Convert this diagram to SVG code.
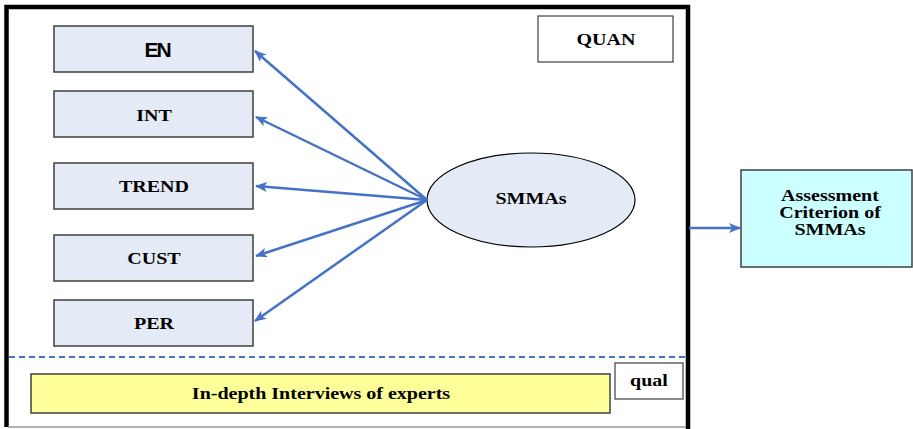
<svg xmlns="http://www.w3.org/2000/svg" width="913" height="429" viewBox="0 0 913 429">
<style>
.box{fill:#E5EBF6;stroke:#3f3f3f;stroke-width:1.5}
.lbl{font-family:"Liberation Serif","Times New Roman",serif;font-weight:bold;font-size:16px;fill:#000;text-anchor:middle}
.arr{stroke:#4472C4;stroke-width:2.5;fill:none;marker-end:url(#ah)}
</style>
<defs>
<marker id="ah" viewBox="0 0 12 10" refX="11" refY="5" markerWidth="12" markerHeight="10" markerUnits="userSpaceOnUse" orient="auto">
<path d="M0,0 L12,5 L0,10 L3,5 Z" fill="#4472C4"/>
</marker>
</defs>
<rect width="913" height="429" fill="#fff"/>
<g id="frame">
<path d="M6.5,427 V7 H688 V429" fill="none" stroke="#000" stroke-width="4.5"/>
<line x1="8" y1="427" x2="686" y2="427" stroke="#999" stroke-width="1.5"/>
<line x1="9" y1="357" x2="686" y2="357" stroke="#4472C4" stroke-width="2" stroke-dasharray="6,4"/>
</g>
<g id="EN"><rect class="box" x="54" y="26" width="199" height="46"/><text x="157" y="57" font-family="Liberation Sans,Arial,sans-serif" font-weight="bold" font-size="21" text-anchor="middle" letter-spacing="-2">EN</text></g>
<g id="INT"><rect class="box" x="54" y="91" width="199" height="46"/><text class="lbl" transform="translate(154,121) scale(1.25,1)">INT</text></g>
<g id="TREND"><rect class="box" x="54" y="163" width="199" height="46"/><text class="lbl" transform="translate(154,192) scale(1.25,1)">TREND</text></g>
<g id="CUST"><rect class="box" x="54" y="235" width="199" height="46"/><text class="lbl" transform="translate(154,264) scale(1.25,1)">CUST</text></g>
<g id="PER"><rect class="box" x="54" y="300" width="199" height="46"/><text class="lbl" transform="translate(154,329) scale(1.25,1)">PER</text></g>
<g id="QUAN"><rect x="538" y="16" width="135" height="46" fill="#fff" stroke="#3f3f3f" stroke-width="1.2"/><text class="lbl" transform="translate(606,45) scale(1.25,1)">QUAN</text></g>
<g id="SMMAs"><ellipse cx="531" cy="200" rx="104" ry="47" fill="#E5EBF6" stroke="#000" stroke-width="1.2"/><text class="lbl" transform="translate(531,204) scale(1.25,1)">SMMAs</text></g>
<g id="interviews"><rect x="31" y="374" width="579" height="39" fill="#FFFF99" stroke="#3f3f3f" stroke-width="1.5"/><text class="lbl" transform="translate(321,399) scale(1.25,1)">In-depth Interviews of experts</text></g>
<g id="qual"><rect x="615" y="363" width="68" height="36" fill="#fff" stroke="#3f3f3f" stroke-width="1.2"/><text class="lbl" transform="translate(649,386) scale(1.25,1)">qual</text></g>
<g id="assessment"><rect x="741" y="170" width="171" height="97" fill="#CCFFFF" stroke="#3f3f3f" stroke-width="1.5"/><text class="lbl" transform="translate(830,201) scale(1.25,1)">Assessment</text><text class="lbl" transform="translate(830,218) scale(1.25,1)">Criterion of</text><text class="lbl" transform="translate(830,235) scale(1.25,1)">SMMAs</text></g>
<g id="connectors">
<line class="arr" x1="427" y1="200" x2="255" y2="51"/>
<line class="arr" x1="427" y1="200" x2="256" y2="117"/>
<line class="arr" x1="427" y1="200" x2="256" y2="186"/>
<line class="arr" x1="427" y1="200" x2="256" y2="256"/>
<line class="arr" x1="427" y1="200" x2="255" y2="321"/>
<line class="arr" x1="689" y1="228" x2="740" y2="228"/>
</g>
</svg>
